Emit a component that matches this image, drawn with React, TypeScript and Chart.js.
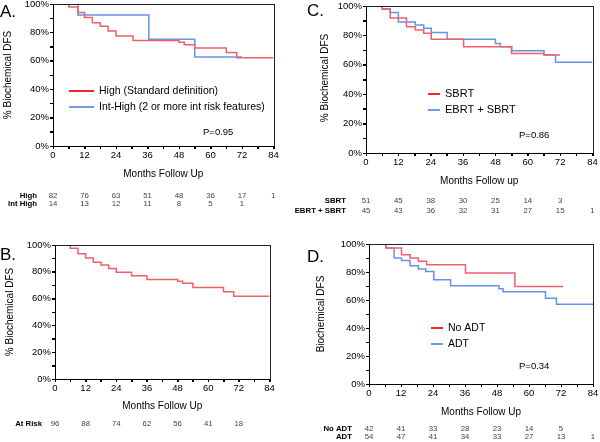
import React, { useEffect, useRef } from 'react';
import { Chart, registerables } from 'chart.js';
Chart.register(...registerables);

const FONT = "'Liberation Sans', Arial, Helvetica, sans-serif";
const RED = '#f0606b';
const BLUE = '#6494e8';

const monthTicks = [0, 12, 24, 36, 48, 60, 72, 84];

// Panel A
const aHighMonths = [0, 6, 9.5, 12, 15, 18, 21, 24, 30.5, 48, 50, 54, 66, 70, 84];
const aHighDFS = [100, 97.8, 94, 90.5, 86.8, 84.3, 81, 77.5, 74.3, 73, 71.3, 69, 65.8, 62.2, 62.2];
const aIntMonths = [0, 9.5, 36.5, 54, 72];
const aIntDFS = [100, 92.3, 75.2, 62.7, 62.7];
const aRiskHigh = [82, 76, 63, 51, 48, 36, 17, 1];
const aRiskInt = [14, 13, 12, 11, 8, 5, 1];

// Panel B
const bMonths = [0, 6, 9, 12, 15, 18, 21, 24, 30, 36, 48, 50, 54, 66, 70, 84];
const bDFS = [100, 97.6, 93.5, 90.3, 87.2, 85, 82.5, 79.6, 77, 74.3, 73, 71.5, 68.3, 65.2, 61.8, 61.8];
const bRisk = [96, 88, 74, 62, 56, 41, 18];

// Panel C
const cSbrtMonths = [0, 6, 9, 15, 18.3, 21.4, 24.2, 36.2, 54, 66, 72];
const cSbrtDFS = [100, 98, 91.8, 85.9, 83.6, 81.4, 77.3, 72.3, 67.7, 66.6, 66.6];
const cEbrtMonths = [0, 6, 9, 12, 18.3, 21.4, 24.2, 30.1, 48, 49.8, 54, 66, 70.3, 84];
const cEbrtDFS = [100, 98, 95.5, 89.1, 87, 84.8, 82, 77.3, 74.5, 72.3, 69.5, 66.8, 61.8, 61.8];
const cRiskSbrt = [51, 45, 38, 30, 25, 14, 3];
const cRiskEbrt = [45, 43, 36, 32, 31, 27, 15, 1];

// Panel D
const dNoAdtMonths = [0, 6.4, 12.2, 15.4, 18.5, 21.6, 36.2, 54.7, 72.8];
const dNoAdtDFS = [100, 97.1, 92.4, 90, 87.6, 85.2, 79.2, 69.7, 69.7];
const dAdtMonths = [0, 6.4, 9.4, 12.2, 15.4, 18.5, 21.3, 24.3, 30.6, 48.7, 50.3, 66.2, 70.3, 84];
const dAdtDFS = [100, 97.1, 90, 88.3, 84.5, 82.1, 80.4, 74.5, 70.2, 68, 65.9, 61.3, 57, 57];
const dRiskNoAdt = [42, 41, 33, 28, 23, 14, 5];
const dRiskAdt = [54, 47, 41, 34, 33, 27, 13, 1];

const toPts = (xs: number[], ys: number[]) => xs.map((x, i) => ({ x, y: ys[i] }));

const panels: any[] = [
  {
    box: { l: 53, r: 273.5, t: 4, b: 146 },
    letter: { text: 'A.', x: 0, y: 12 },
    yTitle: { text: '% Biochemical DFS', x: 8.5, y: 75 },
    xTitle: { text: 'Months Follow Up', y: 174 },
    pval: { text: 'P=0.95', x: 203, y: 132 },
    legend: { x1: 69, x2: 94, tx: 99, ys: [91, 107], size: 10.5 },
    series: [
      { label: 'High (Standard definition)', color: RED, pts: toPts(aHighMonths, aHighDFS), risk: aRiskHigh, rowLabel: 'High' },
      { label: 'Int-High (2 or more int risk features)', color: BLUE, pts: toPts(aIntMonths, aIntDFS), risk: aRiskInt, rowLabel: 'Int High' },
    ],
    risk: { labelX: 37, ys: [196, 204] },
  },
  {
    box: { l: 55, r: 269.5, t: 245, b: 379 },
    letter: { text: 'B.', x: 0, y: 255 },
    yTitle: { text: '% Biochemical DFS', x: 10.5, y: 312 },
    xTitle: { text: 'Months Follow Up', y: 406 },
    pval: null,
    legend: null,
    series: [
      { label: 'All', color: RED, pts: toPts(bMonths, bDFS), risk: bRisk, rowLabel: 'At Risk' },
    ],
    risk: { labelX: 42, ys: [424] },
  },
  {
    box: { l: 366, r: 592.5, t: 6, b: 153 },
    letter: { text: 'C.', x: 307, y: 11.5 },
    yTitle: { text: '% Biochemical DFS', x: 325, y: 78 },
    xTitle: { text: 'Months Follow up', y: 181 },
    pval: { text: 'P=0.86', x: 519, y: 135 },
    legend: { x1: 428, x2: 440, tx: 445, ys: [94, 110], size: 11 },
    series: [
      { label: 'SBRT', color: RED, pts: toPts(cSbrtMonths, cSbrtDFS), risk: cRiskSbrt, rowLabel: 'SBRT' },
      { label: 'EBRT + SBRT', color: BLUE, pts: toPts(cEbrtMonths, cEbrtDFS), risk: cRiskEbrt, rowLabel: 'EBRT + SBRT' },
    ],
    risk: { labelX: 346, ys: [201, 211] },
  },
  {
    box: { l: 369, r: 593, t: 244, b: 384 },
    letter: { text: 'D.', x: 307, y: 257 },
    yTitle: { text: 'Biochemical DFS', x: 321, y: 314 },
    xTitle: { text: 'Months Follow Up', y: 412 },
    pval: { text: 'P=0.34', x: 519, y: 366 },
    legend: { x1: 431, x2: 443, tx: 448, ys: [328, 344], size: 10.5 },
    series: [
      { label: 'No ADT', color: RED, pts: toPts(dNoAdtMonths, dNoAdtDFS), risk: dRiskNoAdt, rowLabel: 'No ADT' },
      { label: 'ADT', color: BLUE, pts: toPts(dAdtMonths, dAdtDFS), risk: dRiskAdt, rowLabel: 'ADT' },
    ],
    risk: { labelX: 352, ys: [429, 437] },
  },
];

const W = 600;
const H = 442;
const YW = 30;
const XH = 20;

function makeDecor(p: any) {
  return {
    id: 'decor',
    afterDraw(chart: any) {
      const ctx = chart.ctx;
      const ca = chart.chartArea;
      const xs = chart.scales.x;
      const ys = chart.scales.y;
      ctx.save();
      // frame top/right
      ctx.strokeStyle = '#222';
      ctx.lineWidth = 1;
      ctx.beginPath();
      ctx.moveTo(ca.left, Math.round(ca.top) + 0.5);
      ctx.lineTo(Math.round(ca.right) + 1, Math.round(ca.top) + 0.5);
      ctx.moveTo(Math.round(ca.right) + 0.5, ca.top);
      ctx.lineTo(Math.round(ca.right) + 0.5, ca.bottom);
      ctx.stroke();

      // minor/major tick marks
      ctx.strokeStyle = '#000';
      ctx.beginPath();
      for (let m = 0; m <= 84; m += 6) {
        const x = Math.round(xs.getPixelForValue(m)) + 0.5;
        ctx.moveTo(x, ca.bottom);
        ctx.lineTo(x, ca.bottom + 3);
      }
      for (let v = 0; v <= 100; v += 10) {
        const y = Math.round(ys.getPixelForValue(v)) + 0.5;
        ctx.moveTo(ca.left - 3, y);
        ctx.lineTo(ca.left, y);
      }
      ctx.stroke();

      ctx.fillStyle = '#000';
      // panel letter
      ctx.font = `17px ${FONT}`;
      ctx.textAlign = 'left';
      ctx.textBaseline = 'middle';
      ctx.fillText(p.letter.text, p.letter.x, p.letter.y);

      // y title
      ctx.save();
      ctx.translate(p.yTitle.x, p.yTitle.y);
      ctx.rotate(-Math.PI / 2);
      ctx.font = `10px ${FONT}`;
      ctx.textAlign = 'center';
      ctx.fillText(p.yTitle.text, 0, 0);
      ctx.restore();

      // x title
      ctx.font = `10px ${FONT}`;
      ctx.textAlign = 'center';
      ctx.fillText(p.xTitle.text, (ca.left + ca.right) / 2, p.xTitle.y);

      // p-value
      if (p.pval) {
        ctx.font = `9.5px ${FONT}`;
        ctx.textAlign = 'left';
        ctx.fillText(p.pval.text, p.pval.x, p.pval.y);
      }

      // legend
      if (p.legend) {
        p.series.forEach((s: any, i: number) => {
          const y = p.legend.ys[i];
          ctx.strokeStyle = s.color === RED ? '#ff2030' : '#6c9de8';
          ctx.lineWidth = 2;
          ctx.beginPath();
          ctx.moveTo(p.legend.x1, y);
          ctx.lineTo(p.legend.x2, y);
          ctx.stroke();
          ctx.fillStyle = '#000';
          ctx.font = `${p.legend.size}px ${FONT}`;
          ctx.textAlign = 'left';
          ctx.fillText(s.label, p.legend.tx, y);
        });
      }

      // at-risk table
      p.series.forEach((s: any, i: number) => {
        const y = p.risk.ys[i];
        ctx.font = `bold 7.8px ${FONT}`;
        ctx.fillStyle = '#000';
        ctx.textAlign = 'right';
        ctx.fillText(s.rowLabel, p.risk.labelX, y);
        ctx.font = `7.8px ${FONT}`;
        ctx.fillStyle = '#444';
        ctx.textAlign = 'center';
        s.risk.forEach((n: number, j: number) => {
          ctx.fillText(String(n), xs.getPixelForValue(monthTicks[j]), y);
        });
      });
      ctx.restore();
    },
  };
}

function Panel({ p }: { p: any }) {
  const ref = useRef<HTMLCanvasElement>(null);
  useEffect(() => {
    const fit = (s: any, which: string) => {
      if (which === 'x') s.height = XH;
      else s.width = YW;
      s.paddingLeft = 0;
      s.paddingRight = 0;
      s.paddingTop = 0;
      s.paddingBottom = 0;
    };
    const chart = new Chart(ref.current as HTMLCanvasElement, {
      type: 'line',
      data: {
        datasets: p.series.map((s: any) => ({
          label: s.label,
          data: s.pts,
          borderColor: s.color,
          borderWidth: 1.5,
          pointRadius: 0,
          stepped: true,
          fill: false,
          tension: 0,
        })),
      },
      options: {
        animation: false,
        responsive: false,
        devicePixelRatio: 1,
        layout: {
          padding: {
            left: p.box.l - YW,
            top: p.box.t,
            right: W - p.box.r,
            bottom: H - p.box.b - XH,
          },
        },
        plugins: { legend: { display: false }, tooltip: { enabled: false } },
        scales: {
          x: {
            type: 'linear',
            min: 0,
            max: 84,
            afterFit: (s: any) => fit(s, 'x'),
            ticks: {
              stepSize: 6,
              autoSkip: false,
              maxRotation: 0,
              padding: 1,
              color: '#000',
              font: { family: FONT, size: 9.5 },
              callback: (v: any) => (v % 12 === 0 ? String(v) : ''),
            },
            grid: { display: true, drawOnChartArea: false, drawTicks: true, tickLength: 3, color: '#000' },
            border: { display: true, color: '#000', width: 1 },
          },
          y: {
            type: 'linear',
            min: 0,
            max: 100,
            afterFit: (s: any) => fit(s, 'y'),
            ticks: {
              stepSize: 10,
              autoSkip: false,
              padding: 1,
              color: '#000',
              font: { family: FONT, size: 9.5 },
              callback: (v: any) => (v % 20 === 0 ? v + '%' : ''),
            },
            grid: { display: true, drawOnChartArea: false, drawTicks: true, tickLength: 3, color: '#000' },
            border: { display: true, color: '#000', width: 1 },
          },
        },
      },
      plugins: [makeDecor(p)],
    } as any);
    return () => chart.destroy();
  }, []);
  return (
    <canvas
      ref={ref}
      width={W}
      height={H}
      style={{ position: 'absolute', left: 0, top: 0, width: W, height: H }}
    />
  );
}

export default function App() {
  return (
    <div style={{ position: 'absolute', left: 0, top: 0, width: W, height: H, background: '#fff', overflow: 'hidden' }}>
      {panels.map((p, i) => (
        <Panel key={i} p={p} />
      ))}
    </div>
  );
}
